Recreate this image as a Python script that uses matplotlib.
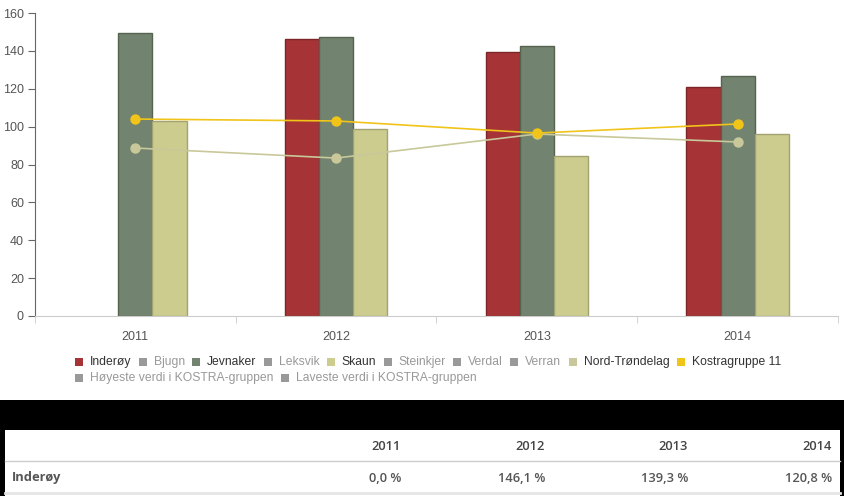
import matplotlib
matplotlib.use("Agg")
import matplotlib.pyplot as plt
from matplotlib.patches import Rectangle
import numpy as np

years = ["2011", "2012", "2013", "2014"]
inderoy = [0.0, 146.1, 139.3, 120.8]
jevnaker = [149.4, 147.3, 142.5, 126.7]
skaun = [103.0, 98.7, 84.5, 96.1]
nord_trondelag = [88.7, 83.4, 96.1, 91.9]
kostragruppe11 = [104.0, 103.0, 96.6, 101.4]

legend_row1 = [("Inderøy", "#a63336", True), ("Bjugn", "#999999", False),
               ("Jevnaker", "#72836f", True), ("Leksvik", "#999999", False),
               ("Skaun", "#cccc8f", True), ("Steinkjer", "#999999", False),
               ("Verdal", "#999999", False), ("Verran", "#999999", False),
               ("Nord-Trøndelag", "#c8c89a", True), ("Kostragruppe 11", "#f0c419", True)]
legend_row2 = [("Høyeste verdi i KOSTRA-gruppen", "#999999", False),
               ("Laveste verdi i KOSTRA-gruppen", "#999999", False)]

table_cols = years
table_row_label = "Inderøy"
table_values = ["0,0 %", "146,1 %", "139,3 %", "120,8 %"]

W, H = 845, 496
fig = plt.figure(figsize=(W / 100, H / 100), dpi=100)
fig.patch.set_facecolor("white")

def fx(px):
    return px / W

def fy(py):
    return 1 - py / H

ax = fig.add_axes([fx(35), fy(316), (838 - 35) / W, (316 - 13) / H])
x = np.arange(len(years))
bw = 0.17
ax.bar(x - bw, inderoy, bw, color="#a63336", edgecolor="#7d2528",
       linewidth=[0 if v == 0 else 1 for v in inderoy], zorder=2)
ax.bar(x, jevnaker, bw, color="#72836f", edgecolor="#56634f", linewidth=1, zorder=2)
ax.bar(x + bw, skaun, bw, color="#cccc8f", edgecolor="#a3a371", linewidth=1, zorder=2)
ax.plot(x, nord_trondelag, color="#c8c89a", linewidth=1.2, marker="o", markersize=7.5,
        markeredgewidth=0, zorder=3)
ax.plot(x, kostragruppe11, color="#f0c419", linewidth=1.2, marker="o", markersize=7.5,
        markeredgewidth=0, zorder=4)

ax.set_xlim(-0.5, 3.5)
ax.set_ylim(0, 160)
ax.set_yticks(range(0, 161, 20))
ax.set_xticks(x)
ax.set_xticklabels(years)
ax.set_xticks(np.arange(-0.5, 3.6, 1.0), minor=True)
ax.tick_params(axis="x", which="major", length=0, pad=11, labelsize=9, labelcolor="#555555")
ax.tick_params(axis="x", which="minor", length=5, color="#cccccc", direction="out")
ax.tick_params(axis="y", length=5, color="#666666", labelsize=9, labelcolor="#555555", pad=3)
for lab in ax.get_xticklabels() + ax.get_yticklabels():
    lab.set_family("Liberation Sans")
ax.spines["top"].set_visible(False)
ax.spines["right"].set_visible(False)
ax.spines["left"].set_color("#666666")
ax.spines["bottom"].set_color("#cccccc")

# Legend (manual)
renderer = fig.canvas.get_renderer()
def draw_row(items, y_px, x_start):
    xp = x_start
    for label, col, active in items:
        fig.patches.append(Rectangle((fx(xp), fy(y_px + 4)), 8 / W, 8 / H,
                                     transform=fig.transFigure, facecolor=col,
                                     edgecolor="none"))
        t = fig.text(fx(xp + 15), fy(y_px), label, fontsize=8.7, family="Liberation Sans",
                     color="#333333" if active else "#999999", va="center", ha="left")
        bb = t.get_window_extent(renderer)
        xp = xp + 15 + bb.width + 7.3
draw_row(legend_row1, 362, 75)
draw_row(legend_row2, 378, 75)

# Table area
fig.patches.append(Rectangle((0, 0), 1, fy(400), transform=fig.transFigure,
                             facecolor="black", edgecolor="none"))
fig.patches.append(Rectangle((fx(5), 0), (840 - 5) / W, fy(430), transform=fig.transFigure,
                             facecolor="white", edgecolor="none"))
fig.lines.append(plt.Line2D([fx(5), fx(840)], [fy(461), fy(461)], transform=fig.transFigure,
                            color="#cccccc", linewidth=1))
fig.lines.append(plt.Line2D([fx(5), fx(840)], [fy(493), fy(493)], transform=fig.transFigure,
                            color="#e6e6e6", linewidth=2))
col_right = [401, 545, 688, 832]
for c, xr in zip(table_cols, col_right):
    fig.text(fx(xr), fy(446), c, fontsize=9.3, family="Open Sans", weight="semibold",
             color="#444444", ha="right", va="center")
for v, xr in zip(table_values, col_right):
    fig.text(fx(xr), fy(478), v, fontsize=9.3, family="Open Sans", weight="semibold",
             color="#555555", ha="right", va="center")
fig.text(fx(12), fy(478), table_row_label, fontsize=9.3, family="Open Sans", weight="bold",
         color="#555555", ha="left", va="center")

fig.savefig("out.png", dpi=100, facecolor="white")
